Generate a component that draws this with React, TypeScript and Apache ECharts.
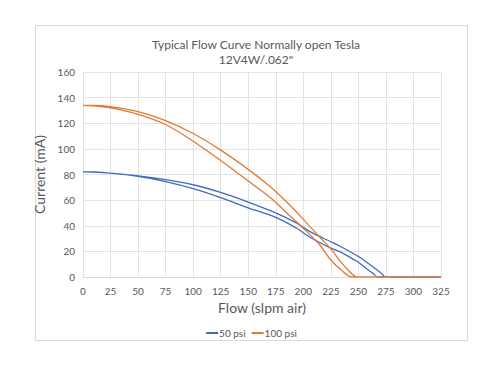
import React, { useEffect, useRef } from "react";
import * as echarts from "echarts";

const titleText = "Typical Flow Curve Normally open Tesla\n12V4W/.062\"";
const xAxisName = "Flow (slpm air)";
const yAxisName = "Current (mA)";
const seriesNames = ["50 psi", "100 psi"];

// 50 psi: outbound curve (upper) and return curve (lower)
const flow50Up = [0, 10, 25, 50, 75, 100, 125, 150, 175, 194, 206, 225, 233, 250, 260, 270, 275, 300, 325];
const cur50Up = [82, 82, 81, 79, 76, 72, 66, 58.5, 50, 42, 35.4, 27.5, 24.2, 16, 10, 3.5, 0, 0, 0];
const flow50Down = [0, 25, 50, 75, 100, 125, 150, 175, 194, 206, 225, 233, 245, 250, 258, 263, 268, 300, 325];
const cur50Down = [82, 81, 78.5, 74.5, 69, 62, 54, 46.5, 38, 31, 22.5, 19.8, 14, 11.5, 6, 3, 0, 0, 0];

// 100 psi
const flow100Up = [0, 10, 25, 50, 75, 100, 125, 150, 170, 185, 200, 215, 225, 233, 240, 249, 275, 300, 325];
const cur100Up = [134, 134, 133, 129, 122, 112, 99, 84, 70.5, 58.5, 45, 31, 22, 13, 6, 0, 0, 0, 0];
const flow100Down = [0, 10, 25, 50, 75, 100, 125, 150, 170, 185, 200, 215, 225, 235, 244, 325];
const cur100Down = [134, 133.5, 132, 127, 119, 106, 91, 75, 62, 50, 38, 25, 13.3, 5, 0, 0];

function loop(fa: number[], ca: number[], fb: number[], cb: number[]) {
  const out: number[][] = fa.map((f, i) => [f, ca[i]]);
  for (let i = fb.length - 1; i >= 0; i--) out.push([fb[i], cb[i]]);
  return out;
}

const FONT = "Lato, 'Liberation Sans', sans-serif";
const TXT = "#595959";

export default function App() {
  const ref = useRef<HTMLDivElement>(null);
  useEffect(() => {
    if (!ref.current) return;
    const chart = echarts.init(ref.current, undefined, { renderer: "svg" });
    chart.setOption({
      animation: false,
      backgroundColor: "#ffffff",
      textStyle: { fontFamily: FONT },
      title: {
        text: titleText,
        left: 251,
        textAlign: "center",
        top: 32,
        textStyle: { fontFamily: FONT, fontSize: 12, fontWeight: "normal", color: TXT, lineHeight: 15 },
      },
      graphic: [
        {
          type: "rect",
          shape: { x: 35.5, y: 25.5, width: 432, height: 315 },
          style: { fill: "none", stroke: "#d9d9d9", lineWidth: 1 },
          silent: true,
          z: -1,
        },
      ],
      legend: {
        data: seriesNames,
        left: "center",
        top: 323,
        icon: "rect",
        itemWidth: 12,
        itemHeight: 2,
        itemGap: 6,
        textStyle: { fontFamily: FONT, fontSize: 10, color: TXT, padding: [0, 0, 0, -4] },
      },
      grid: { left: 83, right: 62, top: 72, bottom: 88, containLabel: false },
      xAxis: {
        type: "value",
        min: 0,
        max: 325,
        interval: 25,
        name: xAxisName,
        nameLocation: "middle",
        nameGap: 20,
        nameTextStyle: { fontFamily: FONT, fontSize: 14, color: TXT },
        axisLine: { show: true, lineStyle: { color: "#d9d9d9" } },
        axisTick: { show: false },
        axisLabel: { fontFamily: FONT, fontSize: 10, color: TXT, margin: 9 },
        splitLine: { show: true, lineStyle: { color: "#e3e3e3" } },
      },
      yAxis: {
        type: "value",
        min: 0,
        max: 160,
        interval: 20,
        name: yAxisName,
        nameLocation: "middle",
        nameGap: 25,
        nameTextStyle: { fontFamily: FONT, fontSize: 14, color: TXT },
        axisLine: { show: false },
        axisTick: { show: false },
        axisLabel: { fontFamily: FONT, fontSize: 10, color: TXT, margin: 8 },
        splitLine: { show: true, lineStyle: { color: "#e3e3e3" } },
      },
      series: [
        {
          name: seriesNames[0],
          type: "line",
          data: loop(flow50Up, cur50Up, flow50Down, cur50Down),
          showSymbol: false,
          smooth: 0.3,
          lineStyle: { color: "#3F6CBF", width: 1.3 },
          itemStyle: { color: "#3F6CBF" },
        },
        {
          name: seriesNames[1],
          type: "line",
          data: loop(flow100Up, cur100Up, flow100Down, cur100Down),
          showSymbol: false,
          smooth: 0.3,
          lineStyle: { color: "#E27A34", width: 1.3 },
          itemStyle: { color: "#E27A34" },
        },
      ],
    });
    return () => chart.dispose();
  }, []);
  return <div ref={ref} style={{ width: 503, height: 365, position: "absolute", left: 0, top: 0 }} />;
}
